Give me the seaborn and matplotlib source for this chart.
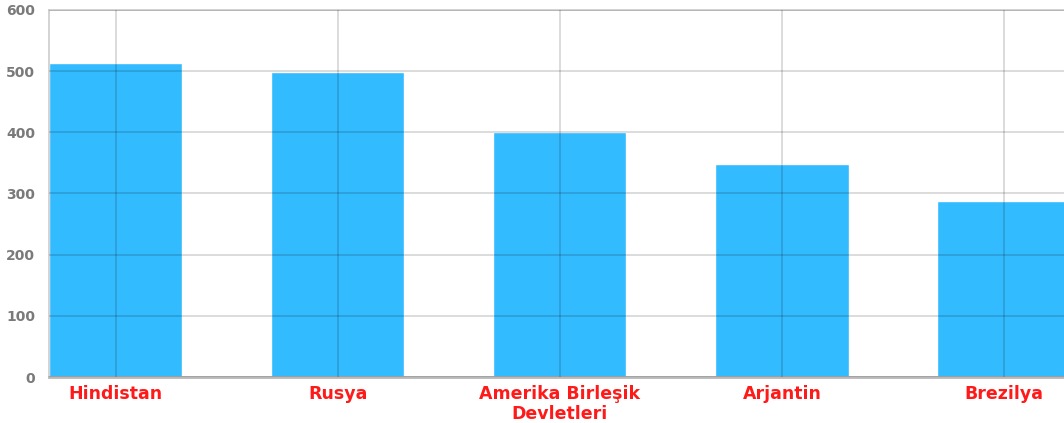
import numpy as np
import pandas as pd
import seaborn as sns
import matplotlib.pyplot as plt

# values
countries = ['Hindistan', 'Rusya', 'Amerika Birleşik\nDevletleri', 'Arjantin', 'Brezilya']
values = [513, 499, 400, 348, 288]
y_ticks = [0, 100, 200, 300, 400, 500, 600]

df = pd.DataFrame({'country': countries, 'value': values})

sns.set_style('white')
plt.rcParams['font.family'] = ['DejaVu Sans']

fig = plt.figure(figsize=(10.64, 4.23), dpi=100)
# plot area runs past the right edge of the image, as in the reference
ax = fig.add_axes([49 / 1064, 46 / 423, 1066 / 1064, 367 / 423])

sns.barplot(data=df, x='country', y='value', color='#33bbff', saturation=1,
            width=0.6, ax=ax, zorder=1)

ax.set_xlim(-0.3, 4.5)
ax.set_ylim(0, 600)
ax.set_yticks(y_ticks)
ax.set_axisbelow(False)
ax.grid(True, color='black', alpha=0.18, linewidth=1.1, zorder=3)

for side in ['left', 'top', 'right']:
    ax.spines[side].set_color('#cccccc')
    ax.spines[side].set_linewidth(1.2)
ax.spines['bottom'].set_color('#b8b8b8')
ax.spines['bottom'].set_linewidth(2)

ax.tick_params(axis='y', length=0, pad=10, labelsize=10, labelcolor='#7a7a7a')
ax.tick_params(axis='x', length=0, pad=6, labelsize=12.5, labelcolor='#ff1a1a')
for lbl in ax.get_xticklabels():
    lbl.set_fontweight('bold')
    lbl.set_linespacing(1.1)
for lbl in ax.get_yticklabels():
    lbl.set_fontweight('bold')

ax.set_xlabel('')
ax.set_ylabel('')

fig.savefig('out.png', dpi=100)
